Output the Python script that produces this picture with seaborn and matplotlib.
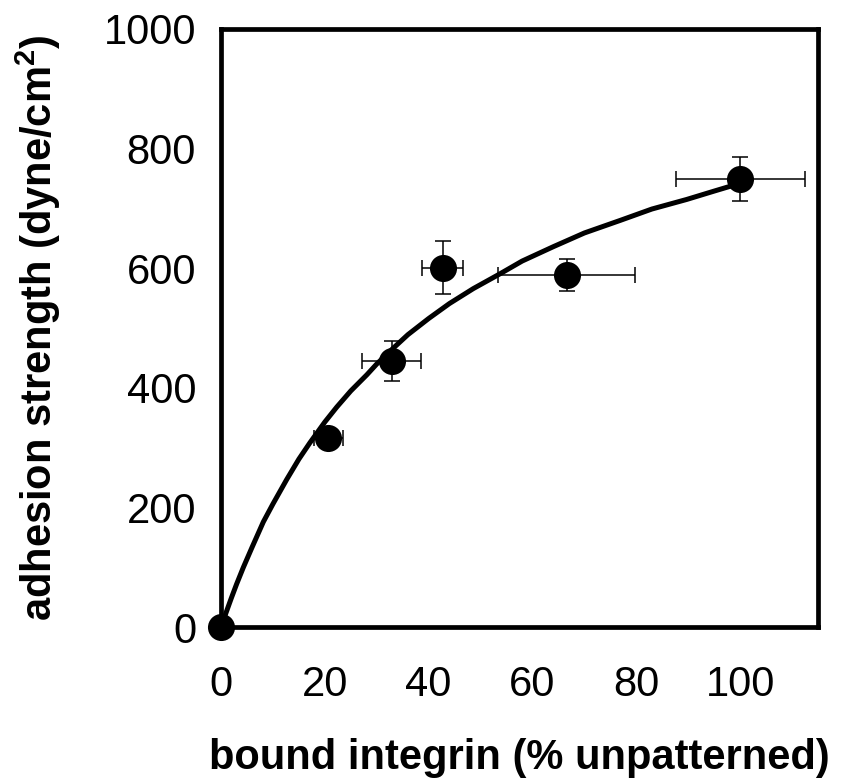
import numpy as np
import pandas as pd
import matplotlib
matplotlib.use("Agg")
import matplotlib.pyplot as plt
import seaborn as sns

# --- 데이터 ---
bound_integrin = [0, 20.7, 32.9, 42.7, 66.6, 100]      # % unpatterned
adhesion = [0, 317, 445, 601, 589, 749]                 # dyne/cm^2
integrin_err = [0, 2.8, 5.7, 4.0, 13.2, 12.4]
adhesion_err = [0, 12, 34, 44, 27, 37]

# 피팅 곡선 (그림 위 곡선에서 읽은 점)
fit_x = [0, 1, 2, 3, 4.3, 6, 8.15, 10, 12.66, 15, 17.1, 20, 22.3, 25, 28.1, 30,
         33, 36, 40, 44, 48.6, 53.8, 58, 64, 70, 76.9, 83, 89.7, 95, 100]
fit_y = [0, 25, 49, 72, 100, 134, 176, 206, 247, 281, 308, 343, 368, 395, 422, 440,
         465, 489, 516, 541, 566, 591, 612, 636, 659, 680, 699, 715, 729, 742]

x_ticks = [0, 20, 40, 60, 80, 100]
y_ticks = [0, 200, 400, 600, 800, 1000]

sns.set_style("white")
plt.rcParams['font.family'] = ['Liberation Sans', 'DejaVu Sans']
plt.rcParams['mathtext.fontset'] = 'custom'
plt.rcParams['mathtext.bf'] = 'Liberation Sans:bold'
plt.rcParams['mathtext.rm'] = 'Liberation Sans'

fig = plt.figure(figsize=(8.42, 7.83), dpi=100)
ax = fig.add_axes([0.2625, 0.199, 0.709, 0.764])

df_fit = pd.DataFrame({'x': fit_x, 'y': fit_y})
sns.lineplot(data=df_fit, x='x', y='y', ax=ax, color='black', linewidth=3.6,
             sort=False, estimator=None, zorder=2)

ax.errorbar(bound_integrin, adhesion, xerr=integrin_err, yerr=adhesion_err,
            fmt='none', ecolor='black', elinewidth=1.1, capsize=5.5, capthick=1.1,
            zorder=3, clip_on=False)

df_pts = pd.DataFrame({'x': bound_integrin, 'y': adhesion})
sns.scatterplot(data=df_pts, x='x', y='y', ax=ax, color='black', s=19.5 ** 2,
                edgecolor='black', linewidth=0, zorder=4, clip_on=False)

ax.set_xlim(0, 115)
ax.set_ylim(0, 1000)
ax.set_xticks(x_ticks)
ax.set_yticks(y_ticks)

for sp in ax.spines.values():
    sp.set_visible(True)
    sp.set_color('black')
    sp.set_linewidth(3.4)

ax.tick_params(axis='both', which='major', direction='out', length=5, width=1,
               color='black', labelsize=30, labelcolor='black')
ax.tick_params(axis='x', pad=22)
ax.tick_params(axis='y', pad=13)

ax.set_xlabel('bound integrin (% unpatterned)', fontsize=30, fontweight='bold',
              labelpad=24, color='black')
ax.set_ylabel(r'adhesion strength (dyne/cm$^{\mathbf{2}}$)', fontsize=30,
              fontweight='bold', labelpad=29, color='black')
ax.grid(False)

fig.savefig('out.png', dpi=100)
plt.close(fig)
